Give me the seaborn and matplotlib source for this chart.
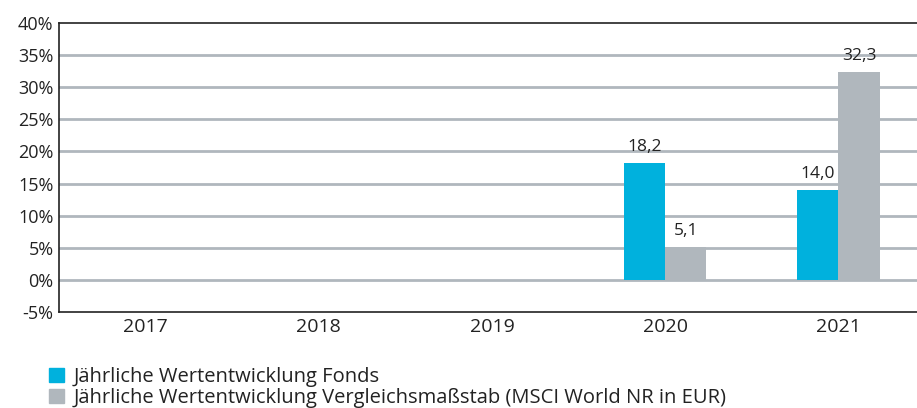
import numpy as np
import pandas as pd
import matplotlib
matplotlib.use("Agg")
import matplotlib.pyplot as plt
import seaborn as sns

# --- data ---
years = ["2017", "2018", "2019", "2020", "2021"]
fonds = [np.nan, np.nan, np.nan, 18.2, 14.0]
benchmark = [np.nan, np.nan, np.nan, 5.1, 32.3]
series_names = [
    "Jährliche Wertentwicklung Fonds",
    "Jährliche Wertentwicklung Vergleichsmaßstab (MSCI World NR in EUR)",
]
colors = ["#00b1dd", "#b0b7bd"]
y_ticks = [-5, 0, 5, 10, 15, 20, 25, 30, 35, 40]

df = pd.DataFrame({
    "Jahr": years * 2,
    "Wert": fonds + benchmark,
    "Serie": [series_names[0]] * len(years) + [series_names[1]] * len(years),
})

sns.set_style("white")
plt.rcParams["font.family"] = ["Open Sans", "DejaVu Sans"]
plt.rcParams["text.color"] = "#222222"

fig = plt.figure(figsize=(9.17, 4.08), dpi=100)
ax = fig.add_axes([59 / 917, 1 - 312 / 408, 866 / 917, 289 / 408])

sns.barplot(data=df, x="Jahr", y="Wert", hue="Serie", order=years,
            hue_order=series_names, palette=colors, width=0.475,
            saturation=1, linewidth=0, ax=ax, legend=False)

ax.set_xlim(-0.5, 4.5)
ax.set_ylim(-5, 40)
ax.set_yticks(y_ticks)
ax.set_yticklabels([f"{t}%" for t in y_ticks], fontsize=13, color="#222222")
ax.tick_params(axis="x", labelsize=14, colors="#222222", length=0, pad=4)
ax.tick_params(axis="y", length=0, pad=4)
ax.set_xlabel("")
ax.set_ylabel("")

# gridlines (not at top / bottom, those are spines)
for t in y_ticks[1:-1]:
    ax.axhline(t, color="#b0b7bd", lw=2, zorder=0)

for side in ["left", "top", "bottom"]:
    ax.spines[side].set_color("#222222")
    ax.spines[side].set_linewidth(1.2)
ax.spines["right"].set_visible(False)

for cont in ax.containers:
    labels = ["" if np.isnan(v) else f"{v:.1f}".replace(".", ",") for v in cont.datavalues]
    ax.bar_label(cont, labels=labels, padding=6, fontsize=12.5, color="#222222")

handles = [plt.Rectangle((0, 0), 1, 1, color=c) for c in colors]
fig.legend(handles, series_names, loc="lower left", bbox_to_anchor=(0.053, 0.0),
           frameon=False, fontsize=14.5, handlelength=0.75, handleheight=0.75,
           handletextpad=0.5, labelspacing=0.05, borderpad=0, borderaxespad=0)

fig.savefig("out.png", dpi=100)
